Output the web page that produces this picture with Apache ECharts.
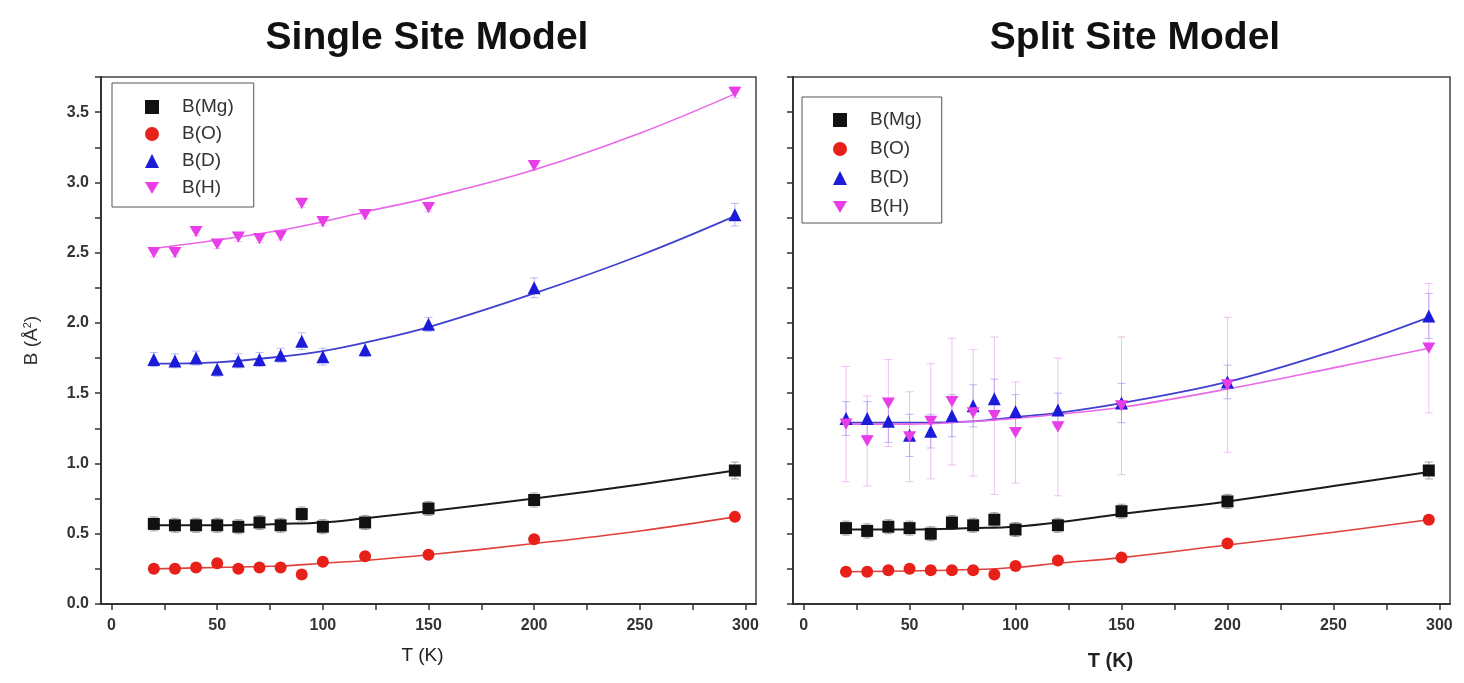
<!DOCTYPE html>
<html><head><meta charset="utf-8">
<script src="https://cdn.jsdelivr.net/npm/echarts@6/dist/echarts.min.js"></script>
<style>html,body{margin:0;padding:0;background:#fff}#c{width:1464px;height:683px}</style>
</head><body><div id="c"></div>
<script>
// ---------- data ----------
const T = [20, 30, 40, 50, 60, 70, 80, 90, 100, 120, 150, 200, 295];
const fitT = [20, 50, 80, 100, 120, 150, 200, 250, 295];
const xTickValues = [0, 50, 100, 150, 200, 250, 300];
const xMinorTickValues = [0, 25, 50, 75, 100, 125, 150, 175, 200, 225, 250, 275, 300];
const legendNames = ['B(Mg)', 'B(O)', 'B(D)', 'B(H)'];
const panelTitles = ['Single Site Model', 'Split Site Model'];

// Single site model
const single_Mg = [0.57, 0.56, 0.56, 0.56, 0.55, 0.58, 0.56, 0.64, 0.55, 0.58, 0.68, 0.74, 0.95];
const single_O  = [0.25, 0.25, 0.26, 0.29, 0.25, 0.26, 0.26, 0.21, 0.30, 0.34, 0.35, 0.46, 0.62];
const single_D  = [1.74, 1.73, 1.75, 1.67, 1.73, 1.74, 1.77, 1.87, 1.76, 1.81, 1.99, 2.25, 2.77];
const single_H  = [2.50, 2.50, 2.65, 2.56, 2.61, 2.60, 2.62, 2.85, 2.72, 2.77, 2.82, 3.12, 3.64];
const single_Mg_err = [0.05, 0.05, 0.05, 0.05, 0.05, 0.05, 0.05, 0.05, 0.05, 0.05, 0.05, 0.05, 0.06];
const single_O_err  = [0.03, 0.03, 0.03, 0.03, 0.03, 0.03, 0.03, 0.03, 0.03, 0.03, 0.03, 0.03, 0.03];
const single_D_err  = [0.05, 0.05, 0.05, 0.05, 0.05, 0.05, 0.05, 0.06, 0.06, 0.05, 0.05, 0.07, 0.08];
const single_H_err  = [0.03, 0.03, 0.03, 0.03, 0.03, 0.03, 0.03, 0.03, 0.03, 0.03, 0.03, 0.03, 0.04];
const single_fit_Mg = [0.56, 0.56, 0.57, 0.58, 0.61, 0.66, 0.75, 0.85, 0.95];
const single_fit_O  = [0.25, 0.26, 0.27, 0.29, 0.31, 0.35, 0.43, 0.52, 0.62];
const single_fit_D  = [1.71, 1.72, 1.76, 1.80, 1.86, 1.97, 2.21, 2.48, 2.76];
const single_fit_H  = [2.53, 2.59, 2.66, 2.72, 2.79, 2.89, 3.09, 3.35, 3.63];

// Split site model
const split_Mg = [0.54, 0.52, 0.55, 0.54, 0.50, 0.58, 0.56, 0.60, 0.53, 0.56, 0.66, 0.73, 0.95];
const split_O  = [0.23, 0.23, 0.24, 0.25, 0.24, 0.24, 0.24, 0.21, 0.27, 0.31, 0.33, 0.43, 0.60];
const split_D  = [1.32, 1.32, 1.30, 1.20, 1.23, 1.34, 1.41, 1.46, 1.37, 1.38, 1.43, 1.58, 2.05];
const split_H  = [1.28, 1.16, 1.43, 1.19, 1.30, 1.44, 1.36, 1.34, 1.22, 1.26, 1.41, 1.56, 1.82];
const split_Mg_err = [0.05, 0.05, 0.05, 0.05, 0.05, 0.05, 0.05, 0.05, 0.05, 0.05, 0.05, 0.05, 0.06];
const split_O_err  = [0.03, 0.03, 0.03, 0.03, 0.03, 0.03, 0.03, 0.03, 0.03, 0.03, 0.03, 0.03, 0.03];
const split_D_err  = [0.12, 0.12, 0.15, 0.15, 0.12, 0.15, 0.15, 0.14, 0.12, 0.12, 0.14, 0.12, 0.16];
const split_H_err  = [0.41, 0.32, 0.31, 0.32, 0.41, 0.45, 0.45, 0.56, 0.36, 0.49, 0.49, 0.48, 0.46];
const split_fit_Mg = [0.53, 0.53, 0.54, 0.55, 0.58, 0.64, 0.73, 0.84, 0.94];
const split_fit_O  = [0.23, 0.235, 0.245, 0.26, 0.29, 0.33, 0.42, 0.51, 0.60];
const split_fit_D  = [1.29, 1.29, 1.30, 1.33, 1.36, 1.43, 1.58, 1.80, 2.04];
const split_fit_H  = [1.28, 1.28, 1.30, 1.32, 1.35, 1.40, 1.53, 1.68, 1.82];

// ---------- styling ----------
const FONT = '"Liberation Sans", Arial, sans-serif';
const INV_TRI = 'path://M0,0 L10,0 L5,8.66 Z';
const styles = {
  'B(Mg)': {color: '#111111', symbol: 'rect', size: 12, line: '#1a1a1a', lw: 2, err: 'rgba(60,60,60,0.45)'},
  'B(O)':  {color: '#e8201a', symbol: 'circle', size: 12, line: '#e0403c', lw: 1.6, err: 'rgba(232,32,26,0.35)'},
  'B(D)':  {color: '#1c1cd8', symbol: 'triangle', size: 13, line: '#4040d0', lw: 1.8, err: 'rgba(60,60,220,0.35)'},
  'B(H)':  {color: '#e83ee8', symbol: INV_TRI, size: 13, line: '#e868e8', lw: 1.6, err: 'rgba(220,120,230,0.45)'}
};

function errRender(params, api) {
  const x = api.value(0), lo = api.value(1), hi = api.value(2);
  const p1 = api.coord([x, lo]), p2 = api.coord([x, hi]);
  const w = 4;
  const st = {stroke: api.visual('color'), lineWidth: 1};
  return {type: 'group', children: [
    {type: 'line', shape: {x1: p1[0], y1: p1[1], x2: p2[0], y2: p2[1]}, style: st},
    {type: 'line', shape: {x1: p1[0] - w, y1: p1[1], x2: p1[0] + w, y2: p1[1]}, style: st},
    {type: 'line', shape: {x1: p2[0] - w, y1: p2[1], x2: p2[0] + w, y2: p2[1]}, style: st}
  ]};
}

function panelSeries(idx, vals, errs, fits) {
  const out = [];
  legendNames.forEach((name, k) => {
    const s = styles[name];
    out.push({
      name: 'err ' + name + ' ' + idx, type: 'custom', xAxisIndex: idx, yAxisIndex: idx,
      renderItem: errRender, itemStyle: {color: s.err}, silent: true, z: 1,
      encode: {x: 0, y: [1, 2]},
      data: T.map((t, i) => [t, vals[k][i] - errs[k][i], vals[k][i] + errs[k][i]])
    });
  });
  legendNames.forEach((name, k) => {
    const s = styles[name];
    out.push({
      name: 'fit ' + name + ' ' + idx, type: 'line', xAxisIndex: idx, yAxisIndex: idx,
      smooth: 0.4, showSymbol: false, symbol: 'none', silent: true, z: 2,
      lineStyle: {color: s.line, width: s.lw},
      data: fitT.map((t, i) => [t, fits[k][i]])
    });
  });
  legendNames.forEach((name, k) => {
    const s = styles[name];
    out.push({
      name: name, type: 'scatter', xAxisIndex: idx, yAxisIndex: idx,
      symbol: s.symbol, symbolSize: s.size, symbolKeepAspect: true, z: 3,
      itemStyle: {color: s.color, opacity: 1},
      data: T.map((t, i) => [t, vals[k][i]])
    });
  });
  return out;
}

const series = [].concat(
  panelSeries(0, [single_Mg, single_O, single_D, single_H],
                 [single_Mg_err, single_O_err, single_D_err, single_H_err],
                 [single_fit_Mg, single_fit_O, single_fit_D, single_fit_H]),
  panelSeries(1, [split_Mg, split_O, split_D, split_H],
                 [split_Mg_err, split_O_err, split_D_err, split_H_err],
                 [split_fit_Mg, split_fit_O, split_fit_D, split_fit_H])
);

function xAxisDef(gi, bold) {
  return {
    type: 'value', gridIndex: gi, min: -5, max: 305,
    name: 'T (K)', nameLocation: 'middle', nameGap: bold ? 47 : 42,
    nameTextStyle: {fontFamily: FONT, fontSize: bold ? 20 : 19, fontWeight: bold ? 'bold' : 'normal', color: '#222',
      padding: bold ? [0, 22, 0, 0] : [0, 12, 0, 0]},
    axisLine: {show: true, onZero: false, lineStyle: {color: '#333', width: 2}},
    axisTick: {show: true, inside: false, length: 6, customValues: xMinorTickValues, lineStyle: {color: '#333', width: 1.5}},
    axisLabel: {show: true, customValues: xTickValues, margin: 14, fontFamily: FONT, fontSize: 16, fontWeight: 'bold', color: '#333'},
    splitLine: {show: false}
  };
}
function yAxisDef(gi, showLabels) {
  return {
    type: 'value', gridIndex: gi, min: 0, max: 3.75, interval: 0.25,
    name: showLabels ? '{n|B (Å}{s|2}{n|)}' : '', nameLocation: 'middle', nameGap: 60,
    nameTextStyle: {rich: {
      n: {fontFamily: FONT, fontSize: 19, color: '#333'},
      s: {fontFamily: FONT, fontSize: 11, color: '#333', verticalAlign: 'top', padding: [0, 0, 8, 0]}
    }},
    axisLine: {show: true, onZero: false, lineStyle: {color: '#333', width: 2}},
    axisTick: {show: true, inside: false, length: 6, lineStyle: {color: '#333', width: 1.5}},
    axisLabel: {show: showLabels, margin: 12, fontFamily: FONT, fontSize: 16, fontWeight: 'bold', color: '#333',
      formatter: v => (Math.round(v * 100) % 50 === 0 && v < 3.6) ? v.toFixed(1) : ''},
    splitLine: {show: false}
  };
}
function legendDef(left, top, padding, gap) {
  return {
    left: left, top: top, orient: 'vertical', data: legendNames,
    itemWidth: 14, itemHeight: 14, itemGap: gap, padding: padding,
    borderColor: '#555', borderWidth: 1, backgroundColor: '#fff', selectedMode: false,
    textStyle: {fontFamily: FONT, fontSize: 19, color: '#333', lineHeight: 20, padding: [0, 0, 0, 18]}
  };
}

const chart = echarts.init(document.getElementById('c'), null, {renderer: 'canvas'});
chart.setOption({
  backgroundColor: '#ffffff',
  animation: false,
  graphic: [
    {type: 'text', x: 427, y: 38, style: {text: panelTitles[0], font: 'bold 39px ' + FONT, fill: '#111', align: 'center', verticalAlign: 'middle'}},
    {type: 'text', x: 1135, y: 38, style: {text: panelTitles[1], font: 'bold 39px ' + FONT, fill: '#111', align: 'center', verticalAlign: 'middle'}}
  ],
  grid: [
    {left: 101, right: 708, top: 77, bottom: 79, show: true, borderColor: '#444', borderWidth: 1.5, backgroundColor: 'transparent'},
    {left: 793, right: 14, top: 77, bottom: 79, show: true, borderColor: '#444', borderWidth: 1.5, backgroundColor: 'transparent'}
  ],
  legend: [
    legendDef(112, 83, [14, 20, 9, 33], 7),
    legendDef(802, 97, [13, 20, 6, 31], 9)
  ],
  xAxis: [xAxisDef(0, false), xAxisDef(1, true)],
  yAxis: [yAxisDef(0, true), yAxisDef(1, false)],
  series: series
});
</script>
</body></html>
